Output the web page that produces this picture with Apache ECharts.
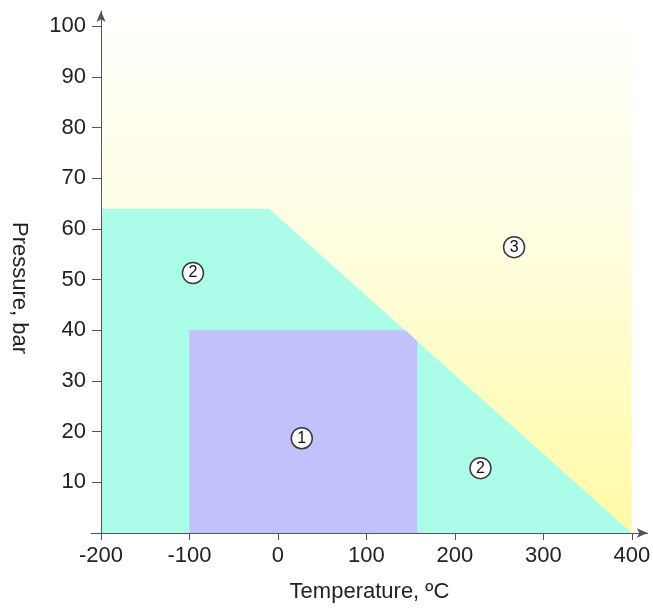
<!DOCTYPE html>
<html>
<head>
<meta charset="utf-8">
<script src="https://cdn.jsdelivr.net/npm/echarts@6/dist/echarts.min.js"></script>
<style>
html,body{margin:0;padding:0;background:#fff;}
#chart{width:653px;height:609px;}
</style>
</head>
<body>
<div id="chart"></div>
<script>
// Data (temperature °C, pressure bar)
const xTickValues = [-200, -100, 0, 100, 200, 300, 400];
const yTickValues = [10, 20, 30, 40, 50, 60, 70, 80, 90, 100];
const zone3Polygon = [[-200, 0], [-200, 102], [400, 102], [400, 0]];
const zone2Polygon = [[-200, 0], [-200, 64], [-10, 64], [400, 0]];
const zone1Polygon = [[-100, 0], [-100, 40], [144, 40], [157.5, 37.9], [157.5, 0]];
const zoneLabels = [[27, 18.7, '1'], [-96, 51.3, '2'], [229, 12.8, '2'], [267, 56.4, '3']];

const chart = echarts.init(document.getElementById('chart'), null, {renderer: 'canvas'});

function polygonSeries(points, fill) {
  return {
    type: 'custom',
    silent: true,
    data: [[0]],
    renderItem: function (params, api) {
      return {
        type: 'polygon',
        shape: {points: points.map(function (p) { return api.coord(p); })},
        style: {fill: fill}
      };
    },
    z: 1
  };
}

const fontFamily = '"Liberation Sans", Arial, sans-serif';

chart.setOption({
  animation: false,
  backgroundColor: '#ffffff',
  grid: {left: 87.2, right: 3, top: 11, bottom: 76, containLabel: false},
  xAxis: {
    type: 'value',
    min: -211,
    max: 418,
    z: 3,
    name: 'Temperature, ºC',
    nameLocation: 'middle',
    nameGap: 48,
    nameTextStyle: {color: '#222', fontSize: 22, fontFamily: fontFamily},
    axisLine: {onZero: false, lineStyle: {color: '#555', width: 1}, symbol: ['none', 'arrow'], symbolSize: [7, 11]},
    axisTick: {show: true, length: 7, lineStyle: {color: '#555'}, customValues: xTickValues},
    axisLabel: {color: '#222', fontSize: 22, fontFamily: fontFamily, margin: 12, customValues: xTickValues},
    splitLine: {show: false}
  },
  yAxis: {
    type: 'value',
    min: 0,
    max: 103,
    offset: -9.8,
    z: 3,
    name: 'Pressure, bar',
    nameLocation: 'middle',
    nameRotate: -90,
    nameGap: 71,
    nameTextStyle: {color: '#222', fontSize: 22, fontFamily: fontFamily, padding: [0, 0, 0, 32]},
    axisLine: {show: true, onZero: false, lineStyle: {color: '#555', width: 1}, symbol: ['none', 'arrow'], symbolSize: [7, 11]},
    axisTick: {show: true, length: 9, lineStyle: {color: '#555'}, customValues: yTickValues},
    axisLabel: {color: '#222', fontSize: 22, fontFamily: fontFamily, margin: 15, customValues: yTickValues},
    splitLine: {show: false}
  },
  series: [
    polygonSeries(zone3Polygon, {
      type: 'linear', x: 0, y: 0, x2: 0, y2: 1,
      colorStops: [
        {offset: 0, color: '#fffffd'},
        {offset: 0.4, color: '#fffee4'},
        {offset: 1, color: '#fffaa5'}
      ]
    }),
    polygonSeries(zone2Polygon, '#abfdea'),
    polygonSeries(zone1Polygon, '#c1c1fc'),
    {
      type: 'scatter',
      data: zoneLabels,
      symbol: 'circle',
      symbolSize: 21,
      z: 5,
      itemStyle: {color: '#ffffff', borderColor: '#3a3a3a', borderWidth: 1.5, opacity: 1},
      label: {
        show: true,
        position: 'inside',
        formatter: function (p) { return p.value[2]; },
        color: '#111',
        fontSize: 16,
        fontFamily: fontFamily
      }
    }
  ]
});
</script>
</body>
</html>
